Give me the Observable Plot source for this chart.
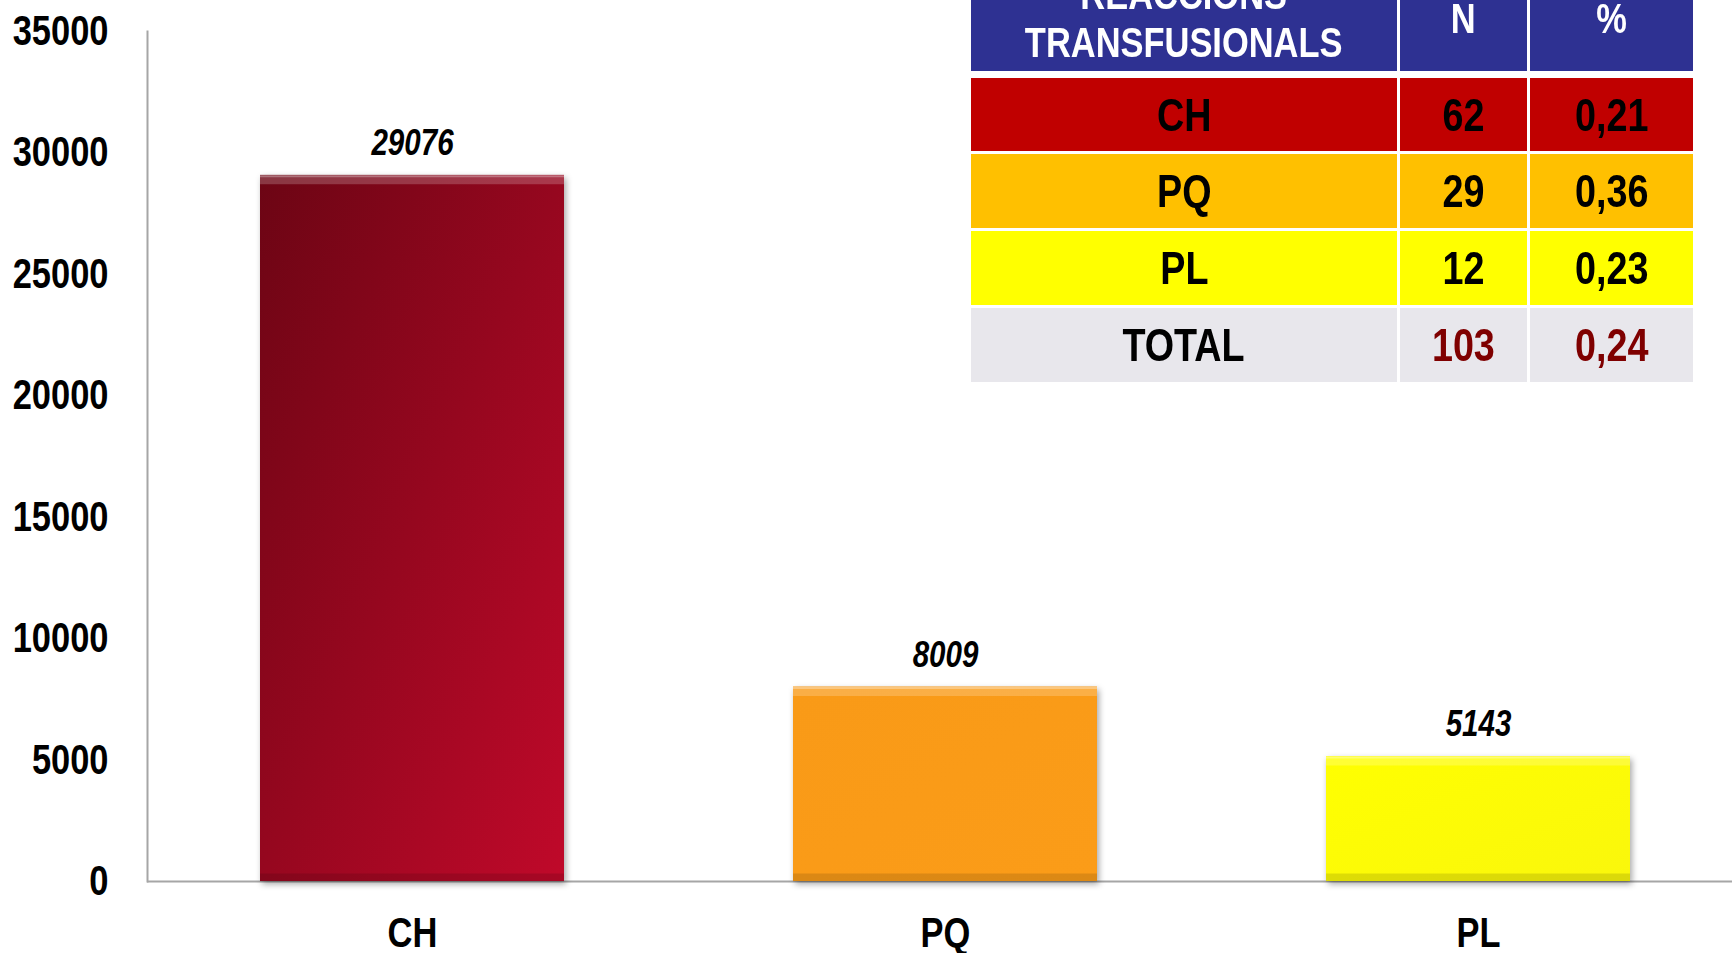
<!DOCTYPE html>
<html>
<head>
<meta charset="utf-8">
<script src="https://cdn.jsdelivr.net/npm/d3@7"></script>
<script src="https://cdn.jsdelivr.net/npm/@observablehq/plot@0.6"></script>
<style>
  html, body { margin: 0; padding: 0; background: #fff; overflow: hidden; }
  #wrap { position: relative; width: 1732px; height: 953px; overflow: hidden; }
  .narrow { font-family: "Liberation Sans", Arial, sans-serif; font-weight: bold; }
  .cell { position: absolute; display: flex; align-items: center; justify-content: center; text-align: center; box-sizing: border-box; }
  .cell span { display: inline-block; transform: scaleX(0.82); transform-origin: center; white-space: nowrap; }
  .hdr { color: #fff; font-size: 42px; line-height: 48px; background: #2E3192; }
  .body { font-size: 46px; color: #000; }
</style>
</head>
<body>
<div id="wrap"></div>
<script>
// ---- chart data ----
const categories = ["CH", "PQ", "PL"];
const units = [29076, 8009, 5143];
const barFills = ["url(#gCH)", "url(#gPQ)", "url(#gPL)"];
const yTicks = [0, 5000, 10000, 15000, 20000, 25000, 30000, 35000];

// ---- table data ----
const tableHeader = ["REACCIONS\nTRANSFUSIONALS", "N", "%"];
const tableRows = ["CH", "PQ", "PL", "TOTAL"];
const reactionsN = ["62", "29", "12", "103"];
const reactionsPct = ["0,21", "0,36", "0,23", "0,24"];
const rowColors = ["#C00000", "#FFC000", "#FFFF00", "#E8E7EC"];
const numberColors = ["#000", "#000", "#000", "#7F0000"];

const data = categories.map((c, i) => ({cat: c, value: units[i], fill: barFills[i]}));

const FONT = '"Liberation Sans", Arial, sans-serif';
const NARROW = 0.82;

const plot = Plot.plot({
  width: 1732,
  height: 953,
  marginTop: 31,
  marginBottom: 72,
  marginLeft: 147,
  marginRight: 0,
  style: {fontFamily: FONT, fontWeight: "bold", fontSize: "42px", color: "#000", background: "transparent", overflow: "visible"},
  x: {domain: categories, range: [144, 1745], paddingInner: 0.43, paddingOuter: 0.215, label: null, tickSize: 0, tickPadding: 36},
  y: {domain: [0, 35000], ticks: yTicks, tickFormat: d => String(d), label: null, tickSize: 0, tickPadding: 39},
  marks: [
    Plot.frame({anchor: "left", stroke: "#A6A6A6", strokeWidth: 2}),
    Plot.ruleY([0], {stroke: "#A6A6A6", strokeWidth: 2}),
    Plot.barY(data, {x: "cat", y: "value", fill: "fill"}),
    Plot.tickY(data, {x: "cat", y: "value", stroke: "#fff", strokeOpacity: 0.2, strokeWidth: 9, dy: 4.5}),
    Plot.tickY(data, {x: "cat", y: "value", stroke: "#fff", strokeOpacity: 0.3, strokeWidth: 2, dy: 1}),
    Plot.tickY(data, {x: "cat", y: d => 0, stroke: "#000", strokeOpacity: 0.12, strokeWidth: 8, dy: -4}),
    Plot.text(data, {x: "cat", y: "value", text: d => String(d.value), dy: -32, fontSize: 36, fontStyle: "italic", fontWeight: "bold", fill: "#000"})
  ]
});

// gradients for bar fills
const svg = d3.select(plot);
const defs = svg.insert("defs", ":first-child");
function grad(id, stops, x2, y2) {
  const g = defs.append("linearGradient").attr("id", id)
    .attr("x1", 0).attr("y1", 0).attr("x2", x2).attr("y2", y2);
  stops.forEach(([o, c]) => g.append("stop").attr("offset", o).attr("stop-color", c));
}
grad("gCH", [[0, "#6C0514"], [1, "#C0092A"]], 1, 1);
grad("gPQ", [[0, "#F99A17"], [1, "#FB9C18"]], 1, 1);
grad("gPL", [[0, "#FFFF00"], [1, "#FAF70C"]], 1, 1);
svg.selectAll('g[aria-label="bar"]').style("filter", "drop-shadow(2px 3px 3px rgba(0,0,0,0.35))");

const wrap = document.getElementById("wrap");
plot.style.position = "absolute";
plot.style.left = "0";
plot.style.top = "0";
wrap.appendChild(plot);

// condense all svg texts horizontally (narrow bold look)
plot.querySelectorAll("text").forEach(t => {
  const w = t.getComputedTextLength();
  if (w > 0) {
    t.setAttribute("textLength", (w * NARROW).toFixed(1));
    t.setAttribute("lengthAdjust", "spacingAndGlyphs");
  }
});

// ---- table overlay ----
const colPos = [[971, 426], [1400, 127], [1530, 163]];
const rowPos = [[-34, 105], [78, 73], [154, 74], [231, 74], [308, 74]];
function cell(text, col, row, cls, bg, color) {
  const d = document.createElement("div");
  d.className = "cell narrow " + cls;
  d.style.left = colPos[col][0] + "px";
  d.style.width = colPos[col][1] + "px";
  d.style.top = rowPos[row][0] + "px";
  d.style.height = rowPos[row][1] + "px";
  if (bg) d.style.background = bg;
  if (color) d.style.color = color;
  const s = document.createElement("span");
  s.innerHTML = text.split("\n").join("<br>");
  d.appendChild(s);
  wrap.appendChild(d);
}
tableHeader.forEach((t, c) => cell(t, c, 0, "hdr"));
tableRows.forEach((r, i) => {
  cell(r, 0, i + 1, "body", rowColors[i], "#000");
  cell(reactionsN[i], 1, i + 1, "body", rowColors[i], numberColors[i]);
  cell(reactionsPct[i], 2, i + 1, "body", rowColors[i], numberColors[i]);
});
</script>
</body>
</html>
